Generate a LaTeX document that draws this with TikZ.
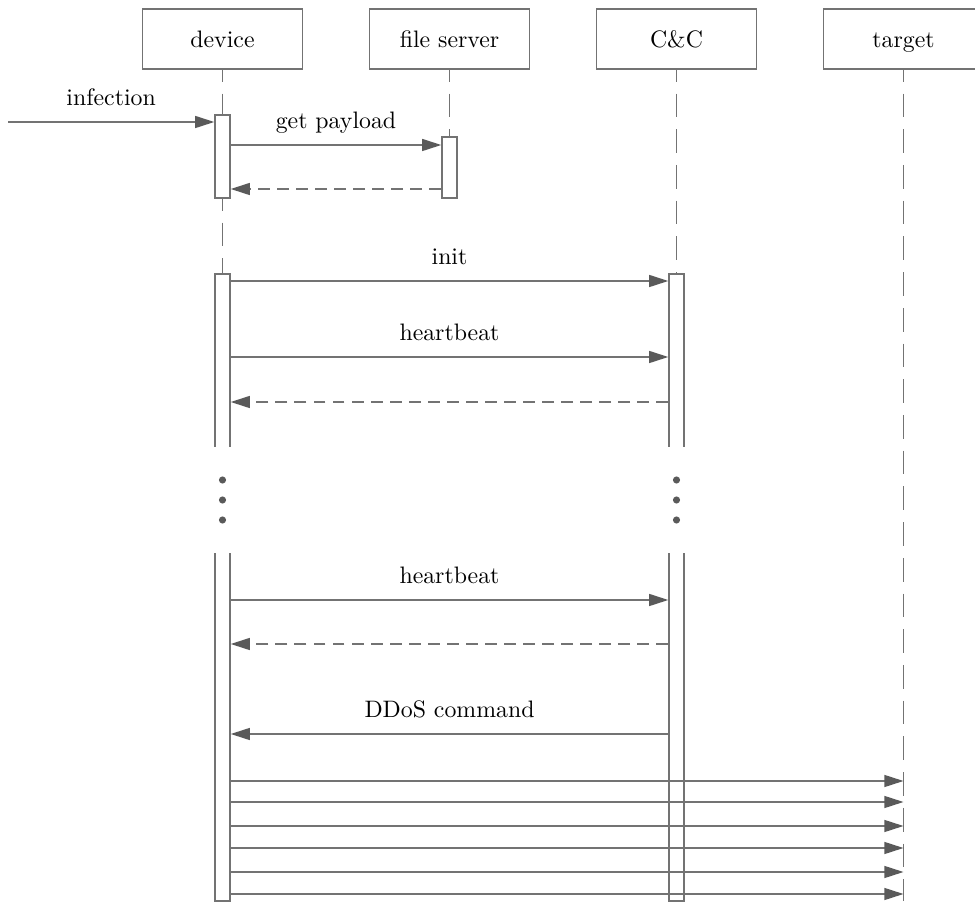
\documentclass[tikz,border=0pt]{standalone}
\usetikzlibrary{arrows.meta}
\definecolor{linegray}{HTML}{737373}
\definecolor{tipgray}{HTML}{5A5A5A}
\begin{document}
\begin{tikzpicture}[x=0.42pt,y=-0.42pt,
  actor/.style={draw=linegray, line width=0.6pt, minimum width=67pt, minimum height=25.2pt, inner sep=0pt, text height=7.5pt, text depth=0pt},
  lifeline/.style={draw=linegray, line width=0.6pt, dash pattern=on 10pt off 5pt, dash phase=5pt},
  bar/.style={draw=linegray, fill=white, line width=0.6pt, minimum width=6.3pt, inner sep=0pt},
  msg/.style={draw=linegray, line width=0.6pt, -{Triangle[length=8pt,width=5pt,color=tipgray]}},
  reply/.style={msg, dash pattern=on 5pt off 3pt},
  lbl/.style={midway, anchor=base, yshift=7pt, text=black},
  dot/.style={circle, fill=tipgray, inner sep=0pt, minimum size=3pt}
]
\useasboundingbox (0,0) rectangle (975,902);
\clip (0,0) rectangle (975,902);

% participants
\node[actor] (dev) at (222.5,39) {device};
\node[actor] (fs)  at (449.5,39) {file server};
\node[actor] (cc)  at (676.5,39) {C\&C};
\node[actor] (tgt) at (903.5,39) {target};

% activation bars
\node[bar, minimum height=34.9pt]  (devA1) at (222.5,156.5) {};
\node[bar, minimum height=25.6pt]  (fsA)   at (449.5,167.5) {};
\node[bar, minimum height=263.3pt] (devA2) at (222.5,587.5) {};
\node[bar, minimum height=263.3pt] (ccA)   at (676.5,587.5) {};

% lifelines
\coordinate (tgtEnd) at (903.5,901);
\draw[lifeline] (dev.south) -- (devA1.north);
\draw[lifeline] (devA1.south) -- (devA2.north);
\draw[lifeline] (fs.south) -- (fsA.north);
\draw[lifeline] (cc.south) -- (ccA.north);
\draw[lifeline] (tgt.south) -- (tgtEnd);

% elided part of the long-running session
\fill[white] (205,447) rectangle (240,553);
\fill[white] (659,447) rectangle (694,553);
\foreach \yy in {480,500,520}{
  \node[dot] (dd\yy) at (222.5,\yy) {};
  \node[dot] (cd\yy) at (676.5,\yy) {};
}

% messages
\coordinate (src) at (8,122);
\draw[msg] (src) -- (devA1.west |- src) node[lbl]{infection};
\draw[msg] (devA1.east |- 0,145) -- (fsA.west |- 0,145) node[lbl]{get payload};
\draw[reply] (fsA.west |- 0,189) -- (devA1.east |- 0,189);

\draw[msg] (devA2.east |- 0,281) -- (ccA.west |- 0,281) node[lbl]{init};
\draw[msg] (devA2.east |- 0,357) -- (ccA.west |- 0,357) node[lbl]{heartbeat};
\draw[reply] (ccA.west |- 0,402) -- (devA2.east |- 0,402);

\draw[msg] (devA2.east |- 0,600) -- (ccA.west |- 0,600) node[lbl]{heartbeat};
\draw[reply] (ccA.west |- 0,644) -- (devA2.east |- 0,644);

\draw[msg] (ccA.west |- 0,734) -- (devA2.east |- 0,734) node[lbl]{DDoS command};

\foreach \yy in {781,802,826,848,872,894}
  \draw[msg] (devA2.east |- 0,\yy) -- (tgtEnd |- 0,\yy);
\end{tikzpicture}
\end{document}
